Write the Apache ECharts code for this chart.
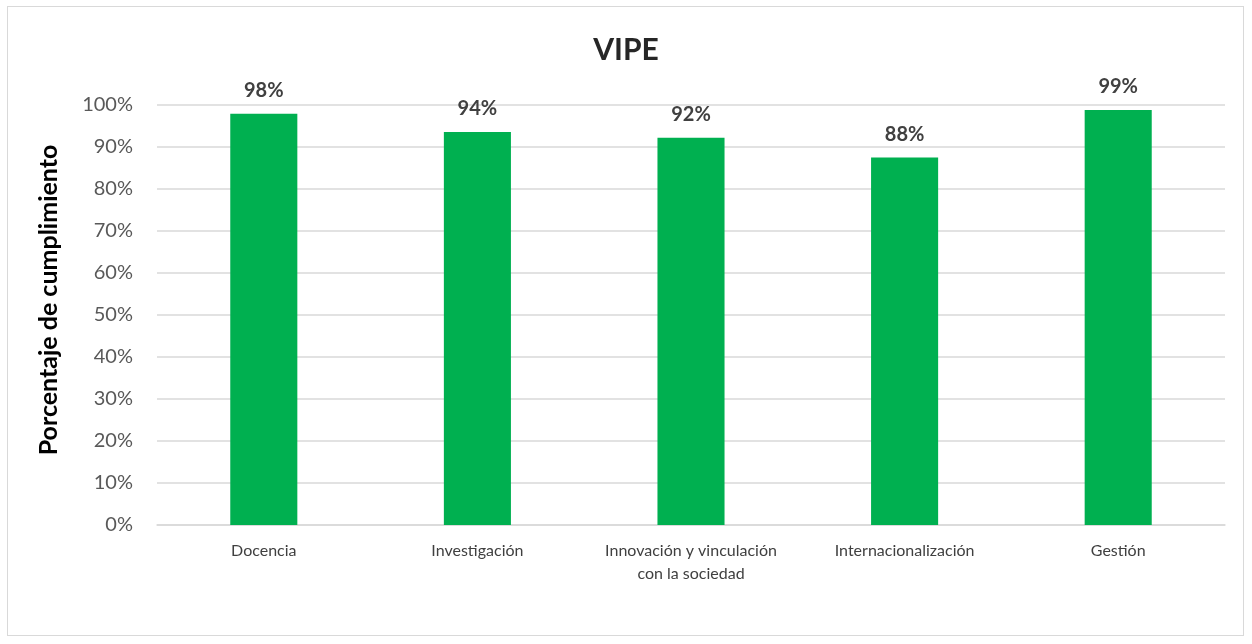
<!DOCTYPE html>
<html><head><meta charset="utf-8">
<script src="https://cdn.jsdelivr.net/npm/echarts@6/dist/echarts.min.js"></script>
<style>html,body{margin:0;padding:0;background:#fff}#c{width:1252px;height:644px}
#frame{position:absolute;left:7px;top:6px;width:1237px;height:630px;border:1px solid #d9d9d9;box-sizing:border-box;pointer-events:none}</style>
</head><body><div id="c"></div><div id="frame"></div>
<script>
const categories = ['Docencia', 'Investigación', 'Innovación y vinculación\ncon la sociedad', 'Internacionalización', 'Gestión'];
const values = [97.9, 93.6, 92.2, 87.5, 98.8];
const yTicks = [0, 10, 20, 30, 40, 50, 60, 70, 80, 90, 100];
const chart = echarts.init(document.getElementById('c'));
const font = 'Lato, "Open Sans", sans-serif';
chart.setOption({
  animation: false,
  title: {text: 'VIPE', left: 'center', top: 30, textStyle: {fontFamily: font, fontWeight: 'bold', fontSize: 30, color: '#262626'}},
  grid: {left: 157, right: 27, top: 105, bottom: 119, containLabel: false},
  xAxis: {type: 'category', data: categories,
    axisLine: {lineStyle: {color: '#d9d9d9', width: 1.5}}, axisTick: {show: false},
    axisLabel: {fontFamily: font, fontSize: 16, color: '#404040', margin: 14, lineHeight: 23, interval: 0}},
  yAxis: {type: 'value', min: yTicks[0], max: yTicks[yTicks.length-1], interval: 10,
    name: 'Porcentaje de cumplimiento', nameLocation: 'middle', nameGap: 96,
    nameTextStyle: {fontFamily: font, fontWeight: 'bold', fontSize: 25, color: '#000', padding: [0, 0, 0, 30]},
    axisLine: {show: false}, axisTick: {show: false},
    axisLabel: {fontFamily: font, fontSize: 20, color: '#595959', margin: 24, formatter: v => v + '%'},
    splitLine: {lineStyle: {color: '#d9d9d9', width: 1.5}}},
  series: [{type: 'bar', data: values, barWidth: '31.4%',
    itemStyle: {color: '#00b050'},
    label: {show: true, position: 'top', distance: 13, fontFamily: font, fontWeight: 'bold', fontSize: 20, color: '#404040',
      formatter: p => Math.round(p.value) + '%'}}]
});
</script></body></html>
